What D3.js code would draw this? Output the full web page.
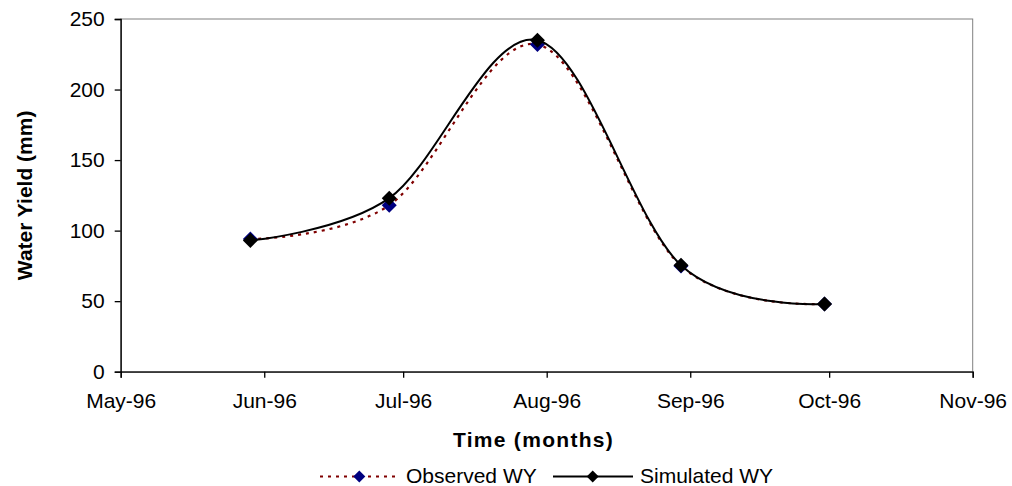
<!DOCTYPE html>
<html>
<head>
<meta charset="utf-8">
<script src="https://cdn.jsdelivr.net/npm/d3@7"></script>
<style>
  body { margin: 0; background: #fff; }
  svg { display: block; }
  text { font-family: "Liberation Sans", Arial, sans-serif; }
</style>
</head>
<body>
<div id="chart"></div>
<script>
// data
const dates = ["1996-05-29", "1996-06-28", "1996-07-30", "1996-08-30", "1996-09-30"];
const observedWY = [94, 118, 232, 75, 48];
const simulatedWY = [93, 123, 235, 75.5, 48];
const yTicks = [0, 50, 100, 150, 200, 250];
const seriesNames = ["Observed WY", "Simulated WY"];

const width = 1012, height = 486;
const margin = { top: 19, right: width - 972.7, bottom: height - 371.7, left: 120.7 };
const fontSize = 21;

const parse = d3.timeParse("%Y-%m-%d");
const obs = dates.map((d, i) => ({ date: parse(d), value: observedWY[i] }));
const sim = dates.map((d, i) => ({ date: parse(d), value: simulatedWY[i] }));

const svg = d3.select("#chart").append("svg")
  .attr("width", width)
  .attr("height", height)
  .attr("viewBox", [0, 0, width, height]);

const x = d3.scaleTime()
  .domain([new Date(1996, 4, 1), new Date(1996, 10, 1)])
  .range([margin.left, width - margin.right]);

const y = d3.scaleLinear()
  .domain([0, 250])
  .range([height - margin.bottom, margin.top]);

// plot area frame
svg.append("rect")
  .attr("x", x.range()[0])
  .attr("y", y(250))
  .attr("width", x.range()[1] - x.range()[0])
  .attr("height", y(0) - y(250))
  .attr("fill", "none")
  .attr("stroke", "#808080")
  .attr("stroke-width", 1);

const xAxis = svg.append("g")
  .attr("transform", `translate(0,${y(0)})`)
  .call(d3.axisBottom(x)
    .ticks(d3.timeMonth.every(1))
    .tickFormat(d3.timeFormat("%b-%y"))
    .tickSize(6)
    .tickPadding(15));

const yAxis = svg.append("g")
  .attr("transform", `translate(${x.range()[0]},0)`)
  .call(d3.axisLeft(y)
    .tickValues(yTicks)
    .tickSize(6)
    .tickPadding(10));

[xAxis, yAxis].forEach(g => {
  g.select(".domain").attr("stroke", "#000").attr("stroke-width", 1.3);
  g.selectAll(".tick line").attr("stroke", "#000").attr("stroke-width", 1.3);
  g.selectAll(".tick text")
    .attr("fill", "#000")
    .attr("font-size", fontSize)
    .attr("font-family", "Liberation Sans, Arial, sans-serif");
});

// axis titles
svg.append("text")
  .attr("x", 533.5)
  .attr("y", 447)
  .attr("text-anchor", "middle")
  .attr("font-size", fontSize)
  .attr("font-weight", "bold")
  .attr("letter-spacing", 1.3)
  .text("Time (months)");

svg.append("text")
  .attr("transform", `translate(31.5,${(y(0) + y(250)) / 2}) rotate(-90)`)
  .attr("text-anchor", "middle")
  .attr("font-size", fontSize)
  .attr("font-weight", "bold")
  .text("Water Yield (mm)");

const line = d3.line()
  .x(d => x(d.date))
  .y(d => y(d.value))
  .curve(d3.curveCatmullRom.alpha(0));

const diamond = (r) => `M0,${-r}L${r},0L0,${r}L${-r},0Z`;

svg.append("path")
  .datum(obs)
  .attr("d", line)
  .attr("fill", "none")
  .attr("stroke", "#800000")
  .attr("stroke-width", 2.2)
  .attr("stroke-dasharray", "3,5");

svg.selectAll(".obs")
  .data(obs)
  .join("path")
  .attr("class", "obs")
  .attr("transform", d => `translate(${x(d.date)},${y(d.value)})`)
  .attr("d", diamond(7.5))
  .attr("fill", "#000080");

svg.append("path")
  .datum(sim)
  .attr("d", line)
  .attr("fill", "none")
  .attr("stroke", "#000")
  .attr("stroke-width", 2);

svg.selectAll(".sim")
  .data(sim)
  .join("path")
  .attr("class", "sim")
  .attr("transform", d => `translate(${x(d.date)},${y(d.value)})`)
  .attr("d", diamond(7.5))
  .attr("fill", "#000");

// legend
const legend = svg.append("g");
const legendItems = [
  { name: seriesNames[0], x0: 320, x1: 397, mx: 359.3, tx: 406, stroke: "#800000", dash: "3,5", fill: "#000080" },
  { name: seriesNames[1], x0: 553, x1: 633, mx: 592.7, tx: 640, stroke: "#000", dash: null, fill: "#000" }
];
const ly = 476.5;
legendItems.forEach(it => {
  legend.append("line")
    .attr("x1", it.x0).attr("x2", it.x1)
    .attr("y1", ly).attr("y2", ly)
    .attr("stroke", it.stroke)
    .attr("stroke-width", 2)
    .attr("stroke-dasharray", it.dash);
  legend.append("path")
    .attr("transform", `translate(${it.mx},${ly})`)
    .attr("d", diamond(6))
    .attr("fill", it.fill);
  legend.append("text")
    .attr("x", it.tx)
    .attr("y", ly)
    .attr("dy", "0.33em")
    .attr("font-size", fontSize)
    .text(it.name);
});
</script>
</body>
</html>
